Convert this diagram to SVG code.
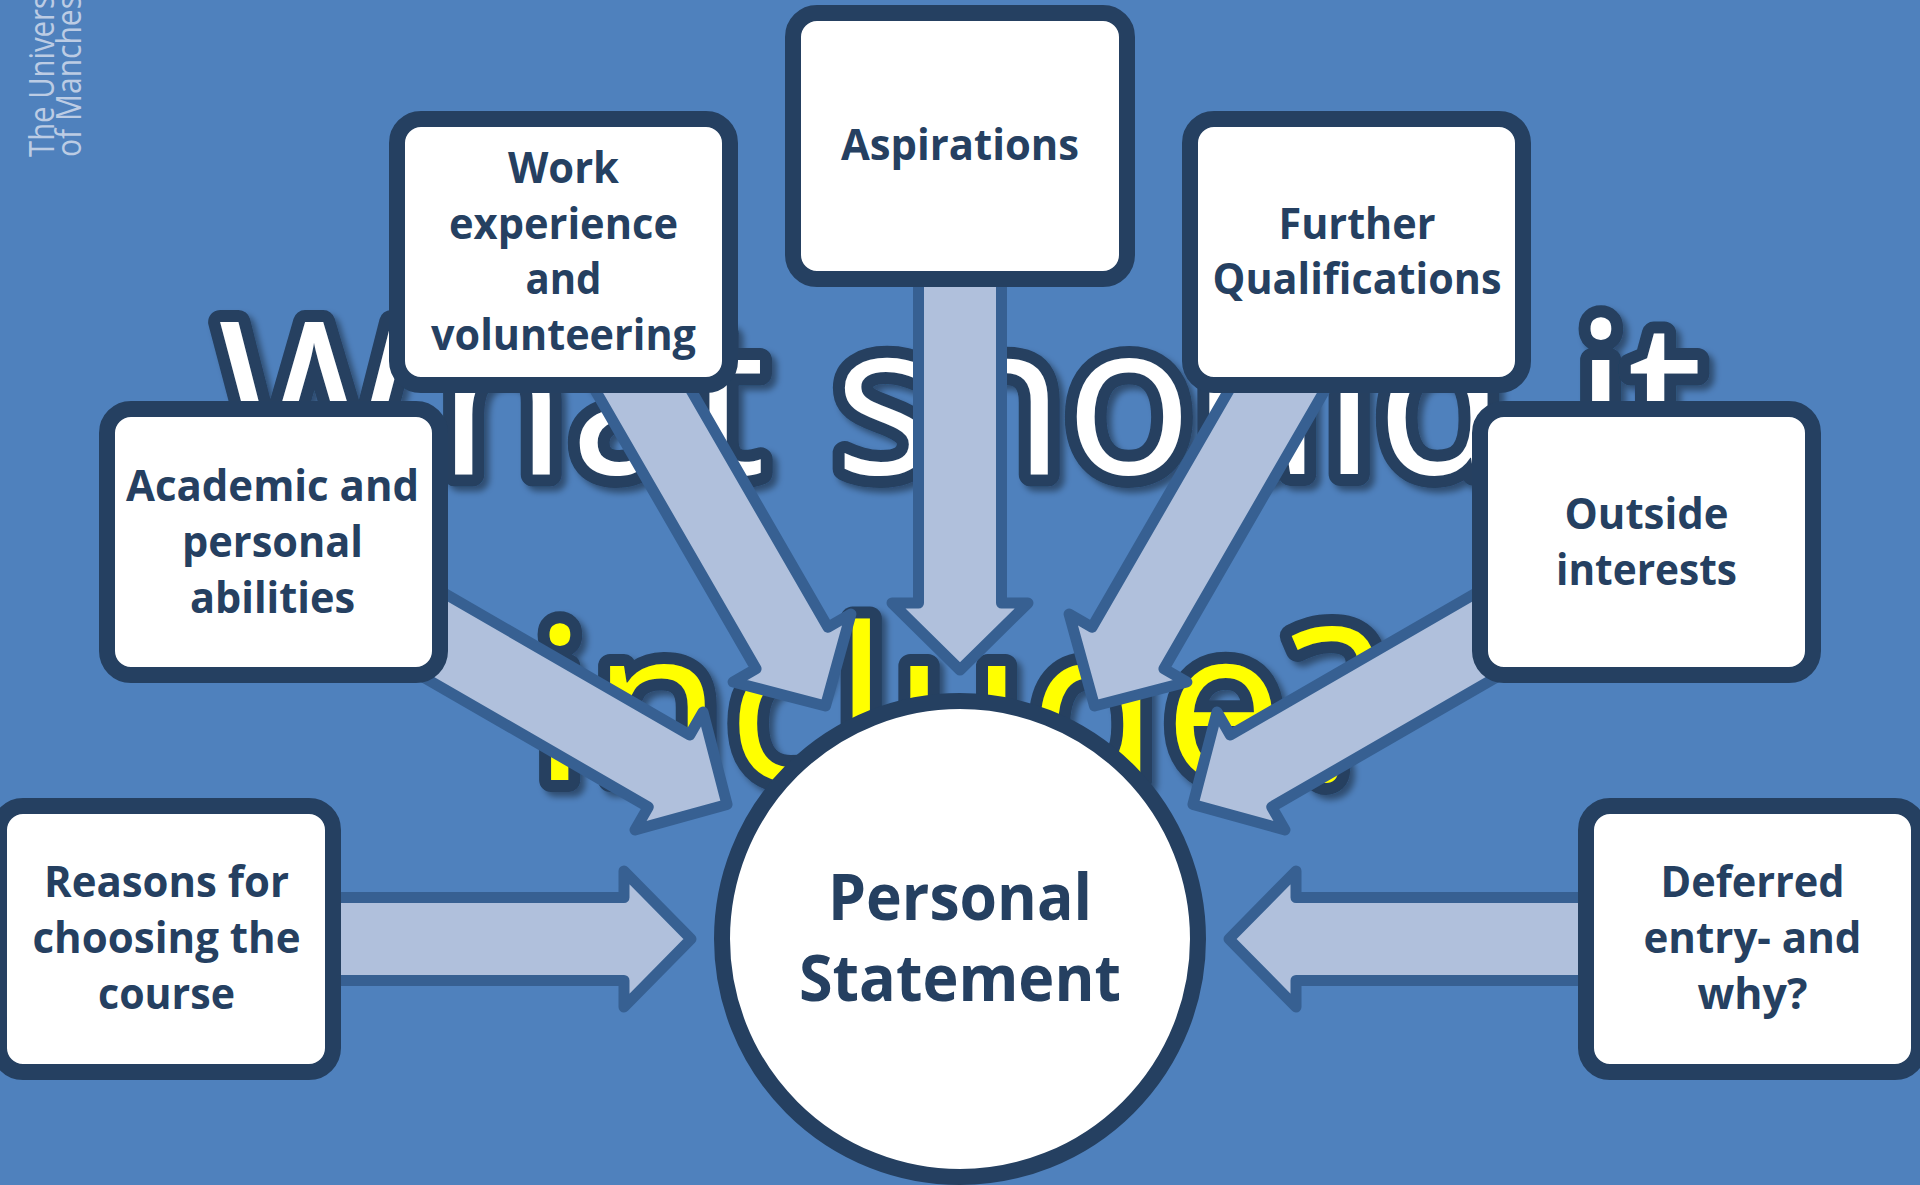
<svg xmlns="http://www.w3.org/2000/svg" width="1920" height="1185" viewBox="0 0 1920 1185">
<style>
text{font-family:"Open Sans","Noto Sans","Liberation Sans",sans-serif;font-variant-ligatures:none}
.box{fill:#fff;stroke:#254061;stroke-width:16}
.lbl{fill:#254061;font-weight:700;font-size:43px;text-anchor:middle}
.big{font-size:64px}
.ttl{font-size:212px;font-weight:500;stroke:#254061;stroke-width:24px;stroke-linejoin:round;paint-order:stroke}
.wm{fill:#bccce4;font-size:34px;font-weight:400}
.arr{fill:#b0c0dc;stroke:#376092;stroke-width:11;stroke-linejoin:round}
</style>
<defs>
<filter id="sh" x="-5%" y="-10%" width="110%" height="120%"><feDropShadow dx="5" dy="5" stdDeviation="3" flood-color="#000" flood-opacity="0.4"/></filter>
<path id="a" class="arr" d="M918.5 270V603H892L960 670L1028 603H1001.5V270Z"/>
</defs>
<rect width="1920" height="1185" fill="#4f81bd"/>
<g id="watermark">
<text class="wm" transform="translate(54,157) rotate(-90)" textLength="162" lengthAdjust="spacingAndGlyphs">The Univers</text>
<text class="wm" transform="translate(81,157) rotate(-90)" textLength="162" lengthAdjust="spacingAndGlyphs">of Manches</text>
</g>
<g id="title" filter="url(#sh)">
<text class="ttl" fill="#fff" y="474"><tspan x="217 437 570 690">What</tspan> <tspan x="834">should</tspan> <tspan x="1574">it</tspan></text>
<text class="ttl" x="533" y="780" fill="#ffff00" textLength="847">include?</text>
</g>
<g id="connectors">
<use href="#a"/>
<use href="#a" transform="rotate(-30 960 939)"/>
<use href="#a" transform="rotate(30 960 939)"/>
<use href="#a" transform="rotate(-60 960 939)"/>
<use href="#a" transform="rotate(60 960 939)"/>
<use href="#a" transform="rotate(-90 960 939)"/>
<use href="#a" transform="rotate(90 960 939)"/>
</g>
<g id="node-work"><rect class="box" x="397" y="119" width="333" height="266" rx="24"/>
<text class="lbl" x="563.5" y="182.5" textLength="111" lengthAdjust="spacingAndGlyphs">Work</text>
<text class="lbl" x="563.5" y="238.5" textLength="229" lengthAdjust="spacingAndGlyphs">experience</text>
<text class="lbl" x="563.5" y="294" textLength="76" lengthAdjust="spacingAndGlyphs">and</text>
<text class="lbl" x="563.5" y="349.5" textLength="265" lengthAdjust="spacingAndGlyphs">volunteering</text></g>
<g id="node-aspirations"><rect class="box" x="793" y="13" width="334" height="266" rx="24"/>
<text class="lbl" x="960" y="160" textLength="238" lengthAdjust="spacingAndGlyphs">Aspirations</text></g>
<g id="node-further"><rect class="box" x="1190" y="119" width="333" height="266" rx="24"/>
<text class="lbl" x="1357" y="238.5" textLength="157" lengthAdjust="spacingAndGlyphs">Further</text>
<text class="lbl" x="1357" y="294" textLength="289" lengthAdjust="spacingAndGlyphs">Qualifications</text></g>
<g id="node-academic"><rect class="box" x="107" y="409" width="333" height="266" rx="24"/>
<text class="lbl" x="272.5" y="500.5" textLength="293" lengthAdjust="spacingAndGlyphs">Academic and</text>
<text class="lbl" x="272.5" y="556.5" textLength="181" lengthAdjust="spacingAndGlyphs">personal</text>
<text class="lbl" x="272.5" y="612.5" textLength="165" lengthAdjust="spacingAndGlyphs">abilities</text></g>
<g id="node-outside"><rect class="box" x="1480" y="409" width="333" height="266" rx="24"/>
<text class="lbl" x="1646.5" y="528.5" textLength="164" lengthAdjust="spacingAndGlyphs">Outside</text>
<text class="lbl" x="1646.5" y="584.5" textLength="181" lengthAdjust="spacingAndGlyphs">interests</text></g>
<g id="node-reasons"><rect class="box" x="-1" y="806" width="334" height="266" rx="24"/>
<text class="lbl" x="166.5" y="897" textLength="245" lengthAdjust="spacingAndGlyphs">Reasons for</text>
<text class="lbl" x="166.5" y="953" textLength="268" lengthAdjust="spacingAndGlyphs">choosing the</text>
<text class="lbl" x="166.5" y="1009" textLength="137" lengthAdjust="spacingAndGlyphs">course</text></g>
<g id="node-deferred"><rect class="box" x="1586" y="806" width="333" height="266" rx="24"/>
<text class="lbl" x="1752.5" y="897" textLength="184" lengthAdjust="spacingAndGlyphs">Deferred</text>
<text class="lbl" x="1752.5" y="953" textLength="218" lengthAdjust="spacingAndGlyphs">entry- and</text>
<text class="lbl" x="1752.5" y="1009" textLength="110" lengthAdjust="spacingAndGlyphs">why?</text></g>
<g id="node-personal"><circle class="box" cx="960" cy="939" r="238"/>
<text class="lbl big" x="960" y="920" textLength="264" lengthAdjust="spacingAndGlyphs">Personal</text>
<text class="lbl big" x="960" y="1001" textLength="322" lengthAdjust="spacingAndGlyphs">Statement</text></g>
</svg>
